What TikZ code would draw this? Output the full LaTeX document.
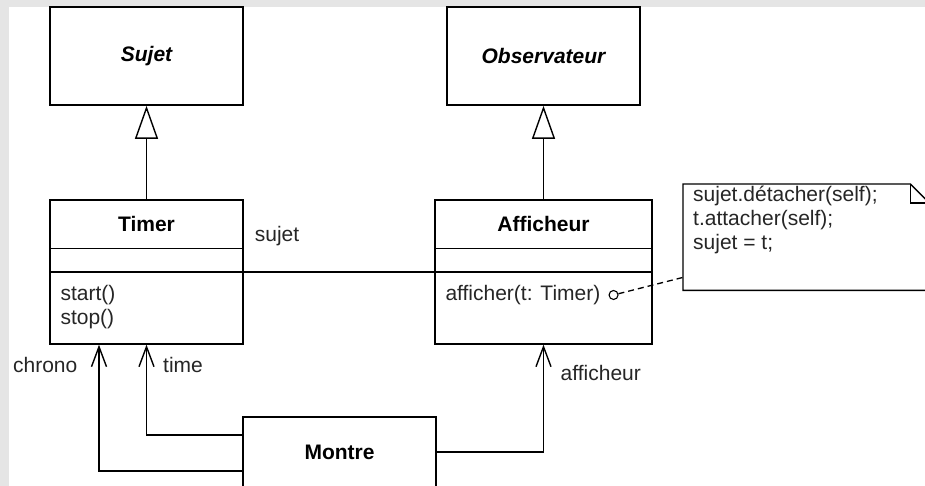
\documentclass[tikz,border=0pt]{standalone}
\usepackage{fontspec}
\setmainfont{Liberation Sans}
\usetikzlibrary{arrows.meta, positioning}
\newcommand{\diagfont}{\fontsize{21}{24}\selectfont}
\tikzstyle{abstract} = [
  rectangle,
  minimum width=193pt,
  minimum height=98pt,
  draw=black,
  line width=1.7pt,
  font=\diagfont\bfseries\itshape
]
\tikzstyle{classbox} = [
  rectangle,
  minimum width=193pt,
  minimum height=144pt,
  draw=black,
  line width=1.4pt
]
\tikzstyle{classname} = [inner sep=0pt, font=\diagfont\bfseries]
\tikzstyle{ops} = [anchor=north west, align=left, inner sep=0pt, text=black!85]
\tikzstyle{role} = [inner sep=2pt, text=black!85]
\tikzstyle{notetext} = [anchor=north west, align=left, inner xsep=10pt, inner ysep=2pt, text=black!85]
\tikzstyle{link} = [line width=1.4pt]
\tikzstyle{inherit} = [line width=1.4pt, -{Triangle[open, length=33pt, width=23pt]}]
\tikzstyle{assoc} = [line width=1.4pt, -{Straight Barb[length=20pt, width=15pt]}]
\tikzstyle{notelink} = [line width=1.3pt, dash pattern=on 6pt off 4pt]

\begin{document}
\begin{tikzpicture}[x=1pt, y=-1pt, node distance=216pt, font=\diagfont]
    \useasboundingbox (0,0) rectangle (925,486);
    \clip (0,0) rectangle (925,486);
    \fill [black!10] (0,0) rectangle (925,486);
    \fill [white] (9,7) rectangle (925,486);

    \node (sujet) [abstract] at (146.5,56) {Sujet};
    \node (observateur) [abstract, right of=sujet, xshift=181pt] {Observateur};
    \node (timer) [classbox, below of=sujet] {};
    \node (afficheur) [classbox, minimum width=217pt, below of=observateur] {};
    \node (montre) [classbox, minimum height=70pt, below of=timer, xshift=193pt, yshift=36pt, font=\diagfont\bfseries] {Montre};

    % compartments
    \node (timer-name) [classname] at ([yshift=-24.5pt]timer.north) {Timer};
    \draw [link] ([yshift=-49pt]timer.north west) -- ([yshift=-49pt]timer.north east);
    \draw [link] (timer.west) -- (timer.east);
    \node (timer-ops) [ops] at ([xshift=11pt, yshift=-13pt]timer.west) {start()\\stop()};

    \node (afficheur-name) [classname] at ([yshift=-24.5pt]afficheur.north) {Afficheur};
    \draw [link] ([yshift=-49pt]afficheur.north west) -- ([yshift=-49pt]afficheur.north east);
    \draw [link] (afficheur.west) -- (afficheur.east);
    \node (afficheur-ops) [ops] at ([xshift=11pt, yshift=-13pt]afficheur.west) {afficher(t: Timer)};
    \node (op-dot) [circle, draw=black, line width=1.1pt, inner sep=0pt, minimum size=9pt, right=8pt of afficheur-ops.east] {};

    % note
    \node (note) [anchor=north west, minimum width=246pt, minimum height=106pt] at (683,184) {};
    \node (note-text) [notetext] at (note.north west) {sujet.détacher(self);\\t.attacher(self);\\sujet = t;};
    \draw [link] (note.north west) -- ([xshift=-19pt]note.north east) -- ([yshift=-19pt]note.north east)
      -- (note.south east) -- (note.south west) -- cycle;
    \draw [link] ([xshift=-19pt]note.north east) -- ([xshift=-19pt, yshift=-19pt]note.north east)
      -- ([yshift=-19pt]note.north east);

    \draw [inherit] (timer) -- (sujet);
    \draw [inherit] (afficheur) -- (observateur);
    \draw [link] (timer) -- (afficheur);
    \node (sujet-role) [role, anchor=west] at ([xshift=9pt, yshift=36pt]timer.east) {sujet};
    \draw [notelink] (op-dot) -- ([yshift=13pt]note.south west);

    \draw [assoc] ([yshift=-19pt]montre.west) -| ([xshift=-47.5pt]timer.south)
      node (chrono-role) [role, pos=0.921, left=19pt] {chrono};
    \draw [assoc] ([yshift=17pt]montre.west) -| (timer.south)
      node (time-role) [role, pos=0.89, right=14pt] {time};
    \draw [assoc] (montre.east) -| (afficheur.south)
      node (afficheur-role) [role, pos=0.87, right=14.5pt] {afficheur};
  \end{tikzpicture}
\end{document}
